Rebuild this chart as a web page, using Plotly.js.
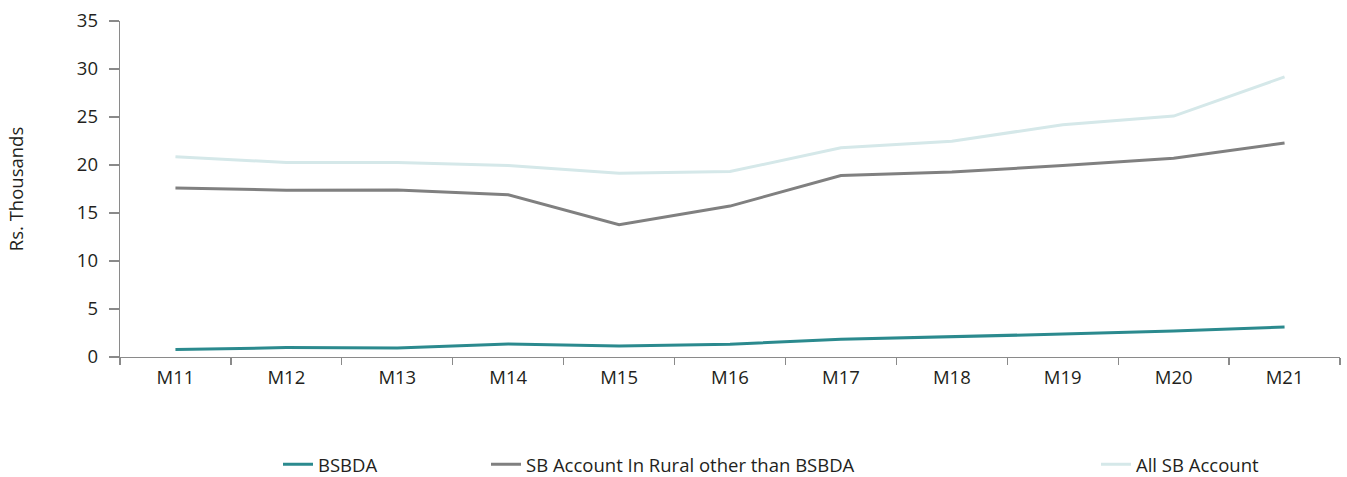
<!DOCTYPE html>
<html>
<head>
<meta charset="utf-8">
<script src="https://cdn.plot.ly/plotly-3.0.1.min.js"></script>
<style>html,body{margin:0;padding:0;background:#fff;}#chart{width:1347px;height:477px;}</style>
</head>
<body>
<div id="chart"></div>
<script>
const categories = ["M11","M12","M13","M14","M15","M16","M17","M18","M19","M20","M21"];
const bsbda = [0.77,0.98,0.94,1.35,1.14,1.33,1.84,2.08,2.39,2.7,3.12];
const ruralOther = [17.6,17.38,17.4,16.9,13.78,15.72,18.9,19.28,19.94,20.7,22.3];
const allSB = [20.87,20.25,20.25,19.94,19.15,19.32,21.8,22.47,24.2,25.1,29.18];
const names = ["BSBDA","SB Account In Rural other than BSBDA","All SB Account"];
const colors = ["#2b8a8e","#808080","#d5e8e9"];

const FONT = "Open Sans, Noto Sans, sans-serif";
const TXT = "#231f20";
const FS = 18.5;

const traces = [
  {x: categories, y: bsbda, name: names[0], type: "scatter", mode: "lines", line: {color: colors[0], width: 3}, legend: "legend"},
  {x: categories, y: ruralOther, name: names[1], type: "scatter", mode: "lines", line: {color: colors[1], width: 3}, legend: "legend2"},
  {x: categories, y: allSB, name: names[2], type: "scatter", mode: "lines", line: {color: colors[2], width: 3}, legend: "legend3"}
];

const PW = 1220, PH = 336.5;
const legBase = {orientation: "h", yanchor: "middle", y: -108 / PH, xanchor: "left", bgcolor: "rgba(0,0,0,0)", font: {family: FONT, size: FS, color: TXT}};

const layout = {
  width: 1347, height: 477,
  margin: {l: 120, r: 7, t: 21, b: 119.5, autoexpand: false},
  paper_bgcolor: "#fff", plot_bgcolor: "#fff",
  font: {family: FONT, size: FS, color: TXT},
  showlegend: true,
  legend: Object.assign({}, legBase, {x: (278 - 120) / PW}),
  legend2: Object.assign({}, legBase, {x: (486 - 120) / PW}),
  legend3: Object.assign({}, legBase, {x: (1096 - 120) / PW}),
  xaxis: {
    type: "category", showgrid: false, zeroline: false,
    showline: true, linecolor: "#8a8a8a", linewidth: 1.3,
    ticks: "outside", ticklen: 7, tickcolor: "#8a8a8a", tickwidth: 1.3,
    tickson: "boundaries", range: [-0.5, 10.5], ticklabelstandoff: 3,
    tickfont: {family: FONT, size: FS, color: TXT}, automargin: false
  },
  yaxis: {
    range: [0, 35], dtick: 5, showgrid: false, zeroline: false,
    showline: true, linecolor: "#8a8a8a", linewidth: 1.3,
    ticks: "outside", ticklen: 10, tickcolor: "#8a8a8a", tickwidth: 1.3,
    ticklabelstandoff: 7,
    tickfont: {family: FONT, size: FS, color: TXT},
    title: {text: "Rs. Thousands", font: {family: FONT, size: FS, color: TXT}, standoff: 48},
    automargin: false
  }
};

Plotly.newPlot("chart", traces, layout, {staticPlot: true, displayModeBar: false});
</script>
</body>
</html>
